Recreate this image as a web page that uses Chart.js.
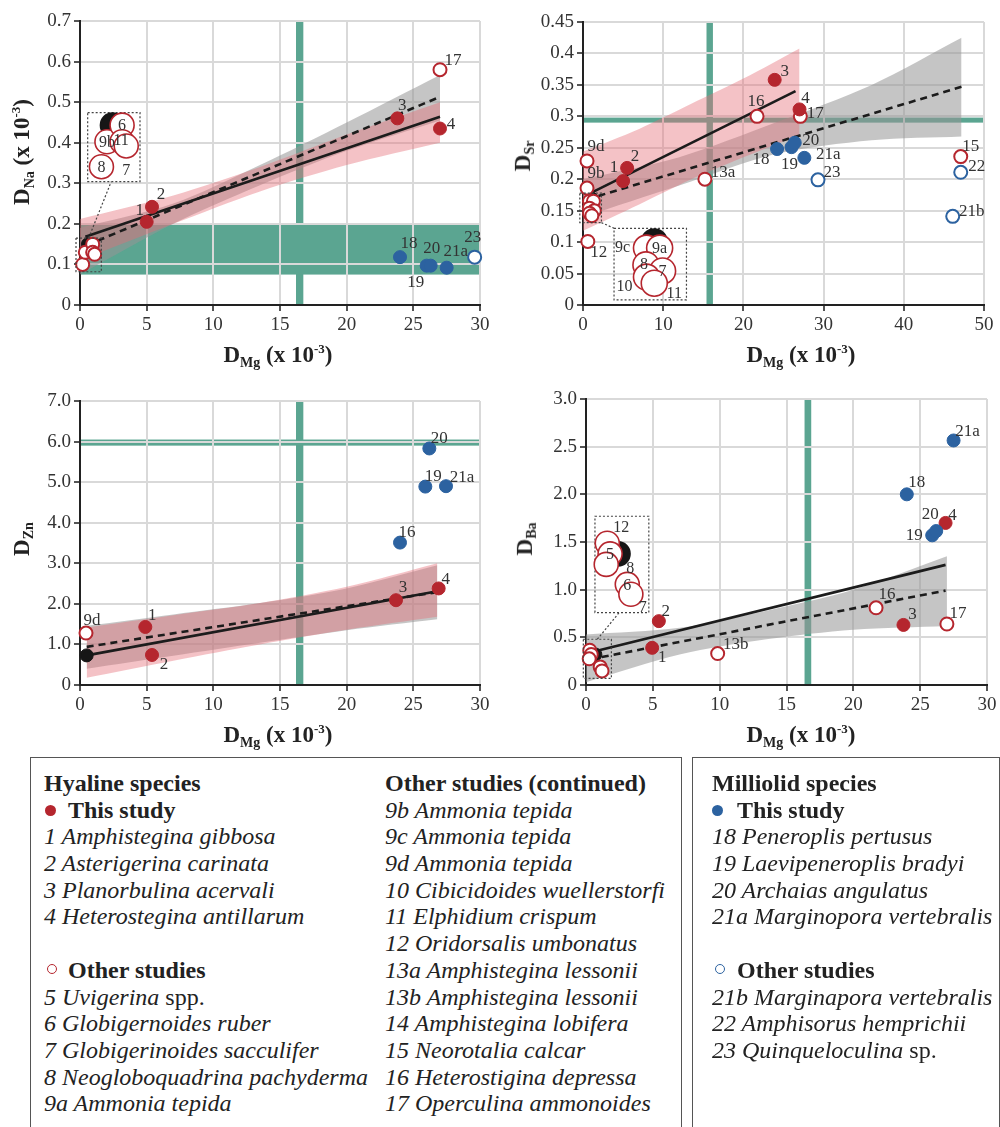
<!DOCTYPE html>
<html>
<head>
<meta charset="utf-8">
<script src="https://cdn.jsdelivr.net/npm/chart.js@4.4.0/dist/chart.umd.min.js"></script>
<style>
  body { margin: 0; background: #fff; font-family: "Liberation Serif", "Times New Roman", serif; color: #222; }
  #page { position: relative; width: 1000px; height: 1127px; overflow: hidden; }
  canvas { position: absolute; }
  .ttl { position: absolute; font-weight: bold; font-size: 23px; white-space: nowrap; color: #222; }
  .ttl.rot { transform: translate(-50%, -50%) rotate(-90deg); }
  .ttl.hor { transform: translate(-50%, -50%); }
  .ttl sub { font-size: 14px; vertical-align: -0.3em; }
  .ttl sup { font-size: 13px; vertical-align: 0.7em; }
  .box { position: absolute; top: 757px; height: 400px; border: 1.5px solid #555; box-sizing: border-box; }
  .col { position: absolute; top: 770px; font-size: 24px; line-height: 26.7px; white-space: nowrap; }
  .col div { height: 26.7px; position: relative; }
  .col b { font-weight: bold; }
  .col i { font-style: italic; }
  .dot { position: absolute; border-radius: 50%; box-sizing: border-box; }
</style>
</head>
<body>
<div id="page">
  <canvas id="cNa" width="500" height="375" style="left:0;top:0"></canvas>
  <canvas id="cSr" width="500" height="375" style="left:500px;top:0"></canvas>
  <canvas id="cZn" width="500" height="375" style="left:0;top:380px"></canvas>
  <canvas id="cBa" width="500" height="375" style="left:500px;top:380px"></canvas>

  <div class="ttl rot" style="left:23px;top:152px">D<sub>Na</sub> (x 10<sup>-3</sup>)</div>
  <div class="ttl rot" style="left:524px;top:156px">D<sub>Sr</sub></div>
  <div class="ttl rot" style="left:23px;top:539px">D<sub>Zn</sub></div>
  <div class="ttl rot" style="left:526px;top:539px">D<sub>Ba</sub></div>
  <div class="ttl hor" style="left:278px;top:356px">D<sub>Mg</sub> (x 10<sup>-3</sup>)</div>
  <div class="ttl hor" style="left:801px;top:356px">D<sub>Mg</sub> (x 10<sup>-3</sup>)</div>
  <div class="ttl hor" style="left:278px;top:736px">D<sub>Mg</sub> (x 10<sup>-3</sup>)</div>
  <div class="ttl hor" style="left:801px;top:736px">D<sub>Mg</sub> (x 10<sup>-3</sup>)</div>

  <div class="box" style="left:30px;width:652px"></div>
  <div class="box" style="left:692px;width:308px"></div>

  <div class="col" style="left:44px">
    <div><b>Hyaline species</b></div>
    <div style="padding-left:24px"><span class="dot" style="left:1px;top:8px;width:11px;height:11px;background:#b5262e"></span><b>This study</b></div>
    <div><i>1 Amphistegina gibbosa</i></div>
    <div><i>2 Asterigerina carinata</i></div>
    <div><i>3 Planorbulina acervali</i></div>
    <div><i>4 Heterostegina antillarum</i></div>
    <div></div>
    <div style="padding-left:24px"><span class="dot" style="left:3px;top:7px;width:10px;height:10px;border:1.6px solid #b5262e"></span><b>Other studies</b></div>
    <div><i>5 Uvigerina</i> spp.</div>
    <div><i>6 Globigernoides ruber</i></div>
    <div><i>7 Globigerinoides sacculifer</i></div>
    <div><i>8 Neogloboquadrina pachyderma</i></div>
    <div><i>9a Ammonia tepida</i></div>
  </div>
  <div class="col" style="left:385px">
    <div><b>Other studies (continued)</b></div>
    <div><i>9b Ammonia tepida</i></div>
    <div><i>9c Ammonia tepida</i></div>
    <div><i>9d Ammonia tepida</i></div>
    <div><i>10 Cibicidoides wuellerstorfi</i></div>
    <div><i>11 Elphidium crispum</i></div>
    <div><i>12 Oridorsalis umbonatus</i></div>
    <div><i>13a Amphistegina lessonii</i></div>
    <div><i>13b Amphistegina lessonii</i></div>
    <div><i>14 Amphistegina lobifera</i></div>
    <div><i>15 Neorotalia calcar</i></div>
    <div><i>16 Heterostigina depressa</i></div>
    <div><i>17 Operculina ammonoides</i></div>
  </div>
  <div class="col" style="left:712px">
    <div><b>Milliolid species</b></div>
    <div style="padding-left:25px"><span class="dot" style="left:0;top:8px;width:11px;height:11px;background:#2c62a0"></span><b>This study</b></div>
    <div><i>18 Peneroplis pertusus</i></div>
    <div><i>19 Laevipeneroplis bradyi</i></div>
    <div><i>20 Archaias angulatus</i></div>
    <div><i>21a Marginopora vertebralis</i></div>
    <div></div>
    <div style="padding-left:25px"><span class="dot" style="left:3px;top:7px;width:10px;height:10px;border:1.6px solid #2c62a0"></span><b>Other studies</b></div>
    <div><i>21b Marginapora vertebralis</i></div>
    <div><i>22 Amphisorus hemprichii</i></div>
    <div><i>23 Quinqueloculina</i> sp.</div>
  </div>
</div>

<script>
// ---- D_Na vs D_Mg ----
const naLabels = ['1', '2', '3', '4', '17', '8', '9b', '6', '11', '7', '', '18', '19', '20', '21a', '23'];
const naGroup = ['hyT', 'hyT', 'hyT', 'hyT', 'hyO', 'hyO', 'hyO', 'hyO', 'hyO', 'hyO', 'mean', 'miT', 'miT', 'miT', 'miT', 'miO'];
const naMg = [5.0, 5.4, 23.8, 27.0, 27.0, 0.2, 0.4, 0.95, 0.95, 1.1, 0.6, 24.0, 26.0, 26.3, 27.5, 29.6];
const naVal = [0.205, 0.242, 0.46, 0.435, 0.58, 0.10, 0.13, 0.15, 0.13, 0.125, 0.15, 0.118, 0.097, 0.097, 0.092, 0.118];
const naSolidX = [0.4, 27.0], naSolidY = [0.168, 0.464];
const naDashX = [0.5, 27.0], naDashY = [0.147, 0.513];
const naBandX = [0, 7, 13.5, 20, 27];
const naPinkHi = [0.212, 0.27, 0.34, 0.42, 0.50];
const naPinkLo = [0.11, 0.20, 0.28, 0.345, 0.40];
const naGreyHi = [0.19, 0.25, 0.345, 0.45, 0.567];
const naGreyLo = [0.075, 0.20, 0.295, 0.38, 0.455];

// ---- D_Sr vs D_Mg ----
const srLabels = ['1', '2', '3', '4', '9d', '9b', '12', '13a', '16', '17', '15', '9c', '9a', '8', '7', '10', '11', '', '18', '19', '20', '21a', '23', '22', '21b'];
const srGroup = ['hyT', 'hyT', 'hyT', 'hyT', 'hyO', 'hyO', 'hyO', 'hyO', 'hyO', 'hyO', 'hyO', 'hyO', 'hyO', 'hyO', 'hyO', 'hyO', 'hyO', 'mean', 'miT', 'miT', 'miT', 'miT', 'miO', 'miO', 'miO'];
const srMg = [5.0, 5.5, 23.9, 27.0, 0.5, 0.5, 0.6, 15.2, 21.7, 27.1, 47.1, 0.81, 1.3, 0.79, 1.41, 0.81, 1.1, 1.1, 24.2, 26.0, 26.4, 27.6, 29.3, 47.1, 46.1];
const srVal = [0.197, 0.218, 0.358, 0.311, 0.229, 0.186, 0.101, 0.200, 0.300, 0.300, 0.236, 0.165, 0.165, 0.154, 0.150, 0.146, 0.142, 0.169, 0.248, 0.251, 0.258, 0.234, 0.199, 0.211, 0.141];
const srSolidX = [0.5, 26.5], srSolidY = [0.175, 0.340];
const srDashX = [0.5, 47.2], srDashY = [0.168, 0.347];
const srPinkX = [0, 7, 13.5, 20, 27];
const srPinkHi = [0.244, 0.28, 0.32, 0.36, 0.408];
const srPinkLo = [0.118, 0.16, 0.20, 0.235, 0.27];
const srGreyX = [0, 12, 24, 36, 47.2];
const srGreyHi = [0.20, 0.235, 0.29, 0.35, 0.425];
const srGreyLo = [0.14, 0.19, 0.24, 0.262, 0.268];

// ---- D_Zn vs D_Mg ----
const znLabels = ['9d', '1', '2', '3', '4', '', '16', '19', '21a', '20'];
const znGroup = ['hyO', 'hyT', 'hyT', 'hyT', 'hyT', 'mean', 'miT', 'miT', 'miT', 'miT'];
const znMg = [0.45, 4.9, 5.4, 23.7, 26.9, 0.5, 24.0, 25.9, 27.45, 26.2];
const znVal = [1.28, 1.43, 0.74, 2.09, 2.38, 0.73, 3.51, 4.89, 4.90, 5.83];
const znSolidX = [0.5, 26.8], znSolidY = [0.73, 2.31];
const znDashX = [0.5, 26.8], znDashY = [0.94, 2.29];
const znBandX = [0.5, 7, 13.5, 20, 26.8];
const znPinkHi = [1.42, 1.72, 2.02, 2.42, 3.0];
const znPinkLo = [0.18, 0.60, 1.00, 1.36, 1.68];
const znGreyHi = [1.46, 1.74, 2.02, 2.38, 2.95];
const znGreyLo = [0.40, 0.72, 1.04, 1.35, 1.62];

// ---- D_Ba vs D_Mg ----
const baLabels = ['1', '2', '3', '4', '16', '17', '13b', '12', '5', '8', '6', '7', '', '18', '19', '20', '21a'];
const baGroup = ['hyT', 'hyT', 'hyT', 'hyT', 'hyO', 'hyO', 'hyO', 'hyO', 'hyO', 'hyO', 'hyO', 'hyO', 'mean', 'miT', 'miT', 'miT', 'miT'];
const baMg = [4.95, 5.45, 23.75, 26.9, 21.7, 27.0, 9.85, 0.28, 0.39, 0.24, 1.06, 1.2, 0.7, 24.0, 25.9, 26.2, 27.5];
const baVal = [0.39, 0.67, 0.63, 1.70, 0.81, 0.64, 0.33, 0.365, 0.32, 0.275, 0.19, 0.148, 0.32, 2.00, 1.57, 1.615, 2.565];
const baSolidX = [0.3, 26.9], baSolidY = [0.34, 1.26];
const baDashX = [0.3, 26.9], baDashY = [0.27, 0.99];
const baBandX = [0, 7, 13.5, 20, 27];
const baGreyHi = [0.53, 0.60, 0.78, 1.00, 1.35];
const baGreyLo = [0.03, 0.32, 0.48, 0.58, 0.62];

const RED = '#b5262e', BLUE = '#2c62a0', GREEN = '#5ba591', GRID = '#d9d9d9';
const serif = "'Liberation Serif', 'Times New Roman', serif";

const pointStyles = {
  hyT: { backgroundColor: RED, borderColor: RED, borderWidth: 1, order: 4 },
  miT: { backgroundColor: BLUE, borderColor: BLUE, borderWidth: 1, order: 3 },
  hyO: { backgroundColor: '#fff', borderColor: RED, borderWidth: 2, order: 6 },
  miO: { backgroundColor: '#fff', borderColor: BLUE, borderWidth: 2, order: 5 },
  mean: { backgroundColor: '#161616', borderColor: '#161616', borderWidth: 1, order: 7 }
};

const bandsPlugin = {
  id: 'bands',
  beforeDraw(chart, args, opts) {
    const { ctx, chartArea: a, scales: { x, y } } = chart;
    ctx.save();
    ctx.fillStyle = GREEN;
    (opts.vert || []).forEach(([v0, v1]) => {
      const p0 = x.getPixelForValue(v0), p1 = x.getPixelForValue(v1);
      ctx.fillRect(p0, a.top, p1 - p0, a.bottom - a.top);
    });
    (opts.horiz || []).forEach(([v0, v1]) => {
      const p0 = y.getPixelForValue(v1), p1 = y.getPixelForValue(v0);
      ctx.fillRect(a.left, p0, a.right - a.left, p1 - p0);
    });
    ctx.restore();
  }
};

const marksPlugin = {
  id: 'marks',
  afterDatasetsDraw(chart, args, opts) {
    const { ctx, scales: { x, y } } = chart;
    const inset = opts.inset;
    let src = null, dst = null;
    if (inset) {
      src = [x.getPixelForValue(inset.src[0]), x.getPixelForValue(inset.src[1]), y.getPixelForValue(inset.src[3]), y.getPixelForValue(inset.src[2])];
      dst = [x.getPixelForValue(inset.dst[0]), x.getPixelForValue(inset.dst[1]), y.getPixelForValue(inset.dst[3]), y.getPixelForValue(inset.dst[2])];
    }
    const inSrc = (px, py) => src && px >= src[0] && px <= src[1] && py >= src[2] && py <= src[3];

    // point labels
    ctx.save();
    ctx.font = '17px ' + serif;
    ctx.fillStyle = '#333';
    ctx.textAlign = 'center';
    ctx.textBaseline = 'middle';
    chart.data.datasets.forEach((ds, di) => {
      if (!ds.tags) return;
      chart.getDatasetMeta(di).data.forEach((el, i) => {
        const t = ds.tags[i];
        if (!t || inSrc(el.x, el.y)) return;
        const off = opts.offsets[t] || [8, -11];
        ctx.fillText(t, el.x + off[0], el.y + off[1]);
      });
    });
    ctx.restore();

    if (!inset) return;
    // inset boxes and connector
    ctx.save();
    ctx.strokeStyle = '#444';
    ctx.lineWidth = 1.2;
    ctx.setLineDash([2, 2]);
    ctx.strokeRect(src[0], src[2], src[1] - src[0], src[3] - src[2]);
    ctx.strokeRect(dst[0], dst[2], dst[1] - dst[0], dst[3] - dst[2]);
    ctx.beginPath();
    if (dst[3] < src[2]) {
      ctx.moveTo((src[0] + src[1]) / 2, src[2]);
      ctx.lineTo(dst[0] + (dst[1] - dst[0]) * 0.45, dst[3]);
    } else {
      ctx.moveTo(src[1], src[3]);
      ctx.lineTo(dst[0], dst[2]);
    }
    ctx.stroke();
    ctx.setLineDash([]);

    // magnified cluster: circles back-to-front, then their numbers on top
    const texts = [];
    const metas = chart.getSortedVisibleDatasetMetas().slice().reverse();
    metas.forEach(meta => {
      const ds = chart.data.datasets[meta.index];
      if (!ds.tags) return;
      meta.data.forEach((el, i) => {
        if (!inSrc(el.x, el.y)) return;
        const fx = (el.x - src[0]) / (src[1] - src[0]);
        const fy = (el.y - src[2]) / (src[3] - src[2]);
        const px = dst[0] + fx * (dst[1] - dst[0]);
        const py = dst[2] + fy * (dst[3] - dst[2]);
        ctx.beginPath();
        ctx.arc(px, py, inset.r, 0, Math.PI * 2);
        ctx.fillStyle = ds.backgroundColor;
        ctx.fill();
        ctx.lineWidth = 1.6;
        ctx.strokeStyle = ds.borderColor;
        ctx.stroke();
        if (ds.tags[i]) texts.push([ds.tags[i], px, py]);
      });
    });
    ctx.fillStyle = '#333';
    ctx.font = '16px ' + serif;
    ctx.textAlign = 'center';
    ctx.textBaseline = 'middle';
    const lab = inset.lab || {};
    texts.forEach(([t, px, py]) => {
      const off = lab[t] || [0, 1];
      ctx.fillText(t, px + off[0], py + off[1]);
    });
    ctx.restore();
  }
};

function lineSet(xs, ys, extra) {
  return Object.assign({
    type: 'line', showLine: true, data: xs.map((v, i) => ({ x: v, y: ys[i] })),
    pointRadius: 0, pointHoverRadius: 0, fill: false
  }, extra);
}

function makePanel(id, p) {
  const datasets = [];
  ['miT', 'hyT', 'miO', 'hyO', 'mean'].forEach(g => {
    const idx = p.group.map((v, i) => v === g ? i : -1).filter(i => i >= 0);
    if (!idx.length) return;
    datasets.push(Object.assign({
      data: idx.map(i => ({ x: p.mg[i], y: p.val[i] })),
      tags: idx.map(i => p.labels[i]),
      pointRadius: 6.5, pointHoverRadius: 6.5, clip: false
    }, pointStyles[g]));
  });
  datasets.push(lineSet(p.solidX, p.solidY, { borderColor: '#1c1c1c', borderWidth: 2.6, order: 8 }));
  datasets.push(lineSet(p.dashX, p.dashY, { borderColor: '#1c1c1c', borderWidth: 2.6, borderDash: [7, 5], order: 8 }));
  if (p.pinkHi) {
    datasets.push(lineSet(p.pinkX, p.pinkHi, { borderWidth: 0, tension: 0.3, fill: '+1', backgroundColor: 'rgba(228,110,120,0.42)', order: 9 }));
    datasets.push(lineSet(p.pinkX, p.pinkLo, { borderWidth: 0, tension: 0.3, order: 9 }));
  }
  datasets.push(lineSet(p.greyX, p.greyHi, { borderWidth: 0, tension: 0.3, fill: '+1', backgroundColor: 'rgba(150,150,150,0.55)', order: 10 }));
  datasets.push(lineSet(p.greyX, p.greyLo, { borderWidth: 0, tension: 0.3, order: 10 }));

  const tickFont = { family: serif, size: 19 };
  return new Chart(document.getElementById(id), {
    type: 'scatter',
    data: { datasets },
    plugins: [bandsPlugin, marksPlugin],
    options: {
      responsive: false,
      animation: false,
      events: [],
      layout: { padding: p.pad },
      plugins: {
        legend: { display: false },
        tooltip: { enabled: false },
        bands: { vert: p.vert, horiz: p.horiz },
        marks: { offsets: p.offsets, inset: p.inset }
      },
      scales: {
        x: {
          type: 'linear', min: 0, max: p.xMax,
          ticks: { stepSize: p.xStep, font: tickFont, color: '#333', padding: 3 },
          grid: { color: GRID, lineWidth: 2, tickColor: '#555', tickLength: 6 },
          border: { color: '#222', width: 2 },
          afterFit: s => { s.height = 70; }
        },
        y: {
          min: 0, max: p.yMax,
          ticks: { stepSize: p.yStep, font: tickFont, color: '#333', padding: 3, callback: p.yFmt },
          grid: { color: GRID, lineWidth: 2, tickColor: '#555', tickLength: 6 },
          border: { color: '#222', width: 2 },
          afterFit: s => { s.width = p.yWidth; }
        }
      }
    }
  });
}

const fmt2 = v => v === 0 ? '0' : String(+v.toFixed(2));
const fmt1 = v => v === 0 ? '0' : v.toFixed(1);

makePanel('cNa', {
  labels: naLabels, group: naGroup, mg: naMg, val: naVal,
  solidX: naSolidX, solidY: naSolidY, dashX: naDashX, dashY: naDashY,
  pinkX: naBandX, pinkHi: naPinkHi, pinkLo: naPinkLo, greyX: naBandX, greyHi: naGreyHi, greyLo: naGreyLo,
  xMax: 30, xStep: 5, yMax: 0.7, yStep: 0.1, yFmt: fmt2, yWidth: 80,
  pad: { top: 21, right: 20, left: 0, bottom: 0 },
  vert: [[16.2, 16.75]], horiz: [[0.075, 0.2]],
  offsets: { '1': [-7, -11], '2': [9, -12], '3': [5, -13], '4': [11, -4], '17': [13, -9], '18': [9, -14], '19': [-11, 17], '20': [1, -17], '21a': [9, -16], '23': [-2, -20] },
  inset: { src: [-0.3, 1.6, 0.082, 0.165], dst: [0.575, 4.5, 0.304, 0.474], r: 12,
           lab: { '7': [0, 25], '11': [-1, -1] } }
});

makePanel('cSr', {
  labels: srLabels, group: srGroup, mg: srMg, val: srVal,
  solidX: srSolidX, solidY: srSolidY, dashX: srDashX, dashY: srDashY,
  pinkX: srPinkX, pinkHi: srPinkHi, pinkLo: srPinkLo, greyX: srGreyX, greyHi: srGreyHi, greyLo: srGreyLo,
  xMax: 50, xStep: 10, yMax: 0.45, yStep: 0.05, yFmt: fmt2, yWidth: 83,
  pad: { top: 22, right: 16, left: 0, bottom: 0 },
  vert: [[15.4, 16.2]], horiz: [[0.29, 0.298]],
  offsets: { '1': [-9, -14], '2': [8, -11], '3': [10, -8], '4': [6, -11], '16': [-1, -15], '17': [15, -3], '9d': [9, -14], '9b': [9, -14], '12': [11, 11], '13a': [18, -7], '15': [10, -10], '22': [16, -6], '21b': [19, -5], '23': [14, -7], '18': [-16, 10], '19': [-2, 17], '20': [16, -2], '21a': [24, -3] },
  inset: { src: [-0.4, 2.3, 0.131, 0.178], dst: [3.87, 12.9, 0.008, 0.122], r: 13,
           lab: { '9c': [-24, 0], '10': [-22, 10], '11': [20, 11], '8': [-2, 0] } }
});

makePanel('cZn', {
  labels: znLabels, group: znGroup, mg: znMg, val: znVal,
  solidX: znSolidX, solidY: znSolidY, dashX: znDashX, dashY: znDashY,
  pinkX: znBandX, pinkHi: znPinkHi, pinkLo: znPinkLo, greyX: znBandX, greyHi: znGreyHi, greyLo: znGreyLo,
  xMax: 30, xStep: 5, yMax: 7, yStep: 1, yFmt: fmt1, yWidth: 80,
  pad: { top: 21, right: 20, left: 0, bottom: 0 },
  vert: [[16.2, 16.75]], horiz: [[5.9, 6.05]],
  offsets: { '9d': [6, -13], '1': [7, -11], '2': [12, 10], '3': [7, -13], '4': [7, -9], '16': [7, -10], '19': [8, -10], '21a': [16, -9], '20': [10, -10] }
});

makePanel('cBa', {
  labels: baLabels, group: baGroup, mg: baMg, val: baVal,
  solidX: baSolidX, solidY: baSolidY, dashX: baDashX, dashY: baDashY,
  greyX: baBandX, greyHi: baGreyHi, greyLo: baGreyLo,
  xMax: 30, xStep: 5, yMax: 3, yStep: 0.5, yFmt: fmt1, yWidth: 86,
  pad: { top: 19, right: 13, left: 0, bottom: 0 },
  vert: [[16.35, 16.85]], horiz: [],
  offsets: { '1': [10, 10], '2': [7, -10], '3': [9, -10], '4': [7, -7], '16': [11, -13], '17': [11, -10], '13b': [18, -9], '18': [10, -12], '19': [-18, 0], '20': [-6, -17], '21a': [14, -9] },
  inset: { src: [-0.2, 1.9, 0.07, 0.48], dst: [0.67, 4.7, 0.76, 1.77], r: 12,
           lab: { '12': [14, -15], '8': [24, 4], '7': [12, 14] } }
});
</script>
</body>
</html>
